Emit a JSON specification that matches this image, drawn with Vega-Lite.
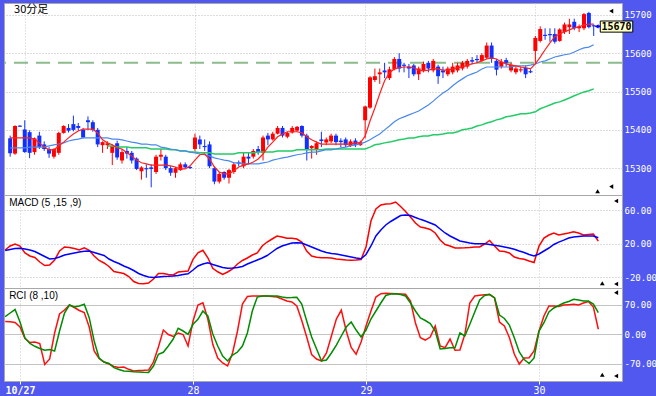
{
"$schema":"https://vega.github.io/schema/vega-lite/v6.json",
"background":"#5058f0",
"padding":{"left":3,"top":2,"right":0,"bottom":2},
"spacing":0,
"bounds":"flush",
"resolve":{"scale":{"x":"independent","y":"independent"}},
"config":{"view":{"fill":"white","stroke":"#a8a8a8","strokeWidth":1},"axis":{"title":null}},
"datasets":{"bars":[
{"i":0,"o":15378,"h":15385,"l":15330,"c":15339,"m1":15379,"m2":15353,"md":12.4,"sg":11.8,"r1":30.2,"r2":42},
{"i":1,"o":15338,"h":15412,"l":15335,"c":15410,"m1":15379,"m2":15353,"md":17.2,"sg":13,"r1":29.7,"r2":50.3},
{"i":2,"o":15411,"h":15412,"l":15408,"c":15408,"m1":15379,"m2":15353,"md":19.6,"sg":14.2,"r1":27.8,"r2":58.5},
{"i":3,"o":15401,"h":15425,"l":15340,"c":15342,"m1":15379,"m2":15353,"md":17.2,"sg":14.4,"r1":17.2,"r2":29},
{"i":4,"o":15394,"h":15399,"l":15326,"c":15340,"m1":15379,"m2":15355,"md":8.8,"sg":13.6,"r1":-9.9,"r2":-8.7},
{"i":5,"o":15342,"h":15380,"l":15335,"c":15378,"m1":15376,"m2":15355,"md":5.2,"sg":12.4,"r1":-19.4,"r2":-21.7},
{"i":6,"o":15385,"h":15395,"l":15350,"c":15355,"m1":15366,"m2":15355,"md":3.4,"sg":10.6,"r1":-18.2,"r2":-28.3},
{"i":7,"o":15362,"h":15370,"l":15345,"c":15350,"m1":15355,"m2":15355,"md":-2,"sg":7.6,"r1":-21.7,"r2":-33.5},
{"i":8,"o":15350,"h":15355,"l":15327,"c":15338,"m1":15348,"m2":15358,"md":-6.2,"sg":4.6,"r1":-71.3,"r2":-37.5},
{"i":9,"o":15330,"h":15352,"l":15325,"c":15350,"m1":15348,"m2":15361,"md":-5.6,"sg":1.6,"r1":-58.3,"r2":-35.9},
{"i":10,"o":15340,"h":15395,"l":15335,"c":15392,"m1":15358,"m2":15363,"md":0.4,"sg":2.2,"r1":3.1,"r2":-39.4},
{"i":11,"o":15392,"h":15412,"l":15390,"c":15410,"m1":15368,"m2":15366,"md":11.2,"sg":4,"r1":47.9,"r2":7.8},
{"i":12,"o":15405,"h":15415,"l":15393,"c":15398,"m1":15379,"m2":15371,"md":16,"sg":6.4,"r1":57.3,"r2":50.3},
{"i":13,"o":15415,"h":15437,"l":15396,"c":15400,"m1":15389,"m2":15374,"md":15.4,"sg":7.6,"r1":69.1,"r2":69.1},
{"i":14,"o":15410,"h":15418,"l":15398,"c":15405,"m1":15397,"m2":15376,"md":14.2,"sg":8.8,"r1":63.2,"r2":64.4},
{"i":15,"o":15400,"h":15405,"l":15378,"c":15380,"m1":15402,"m2":15379,"md":12.4,"sg":10,"r1":56.2,"r2":66.8},
{"i":16,"o":15425,"h":15435,"l":15400,"c":15420,"m1":15402,"m2":15379,"md":15.1,"sg":10.8,"r1":51.4,"r2":70.8},
{"i":17,"o":15420,"h":15425,"l":15395,"c":15400,"m1":15402,"m2":15379,"md":12,"sg":11.2,"r1":17.2,"r2":39.2},
{"i":18,"o":15400,"h":15405,"l":15355,"c":15362,"m1":15392,"m2":15379,"md":5.2,"sg":9.4,"r1":-39.4,"r2":-15.8},
{"i":19,"o":15360,"h":15370,"l":15340,"c":15368,"m1":15374,"m2":15379,"md":-0.2,"sg":7.6,"r1":-57.1,"r2":-55.9},
{"i":20,"o":15360,"h":15370,"l":15350,"c":15365,"m1":15366,"m2":15379,"m3":15358,"md":-3.2,"sg":5.8,"r1":-65.4,"r2":-65.4},
{"i":21,"o":15340,"h":15362,"l":15308,"c":15358,"m1":15361,"m2":15376,"m3":15358,"md":-7.4,"sg":1.6,"r1":-70.1,"r2":-68.9},
{"i":22,"o":15365,"h":15372,"l":15322,"c":15328,"m1":15353,"m2":15376,"m3":15355,"md":-13.4,"sg":-1.4,"r1":-76,"r2":-78.8},
{"i":23,"o":15320,"h":15350,"l":15312,"c":15342,"m1":15350,"m2":15374,"m3":15355,"md":-14.6,"sg":-3.8,"r1":-78.4,"r2":-83.1},
{"i":24,"o":15345,"h":15355,"l":15325,"c":15338,"m1":15340,"m2":15371,"m3":15355,"md":-15.8,"sg":-6.8,"r1":-77.2,"r2":-86.6},
{"i":25,"o":15340,"h":15345,"l":15312,"c":15320,"m1":15332,"m2":15368,"m3":15353,"md":-19.4,"sg":-9.2,"r1":-82.6,"r2":-87.3},
{"i":26,"o":15325,"h":15328,"l":15295,"c":15298,"m1":15321,"m2":15366,"m3":15353,"md":-25.4,"sg":-12.2,"r1":-86.6,"r2":-88.3},
{"i":27,"o":15292,"h":15305,"l":15270,"c":15302,"m1":15314,"m2":15363,"m3":15353,"md":-27.8,"sg":-15.8,"r1":-85.4,"r2":-89},
{"i":28,"o":15300,"h":15310,"l":15275,"c":15297,"m1":15311,"m2":15363,"m3":15353,"md":-28.1,"sg":-18.2,"r1":-85,"r2":-89.7},
{"i":29,"o":15302,"h":15310,"l":15250,"c":15298,"m1":15308,"m2":15361,"m3":15350,"md":-27.2,"sg":-20,"r1":-84.3,"r2":-90.1},
{"i":30,"o":15290,"h":15335,"l":15285,"c":15330,"m1":15308,"m2":15361,"m3":15350,"md":-22.4,"sg":-20.6,"r1":-65.4,"r2":-74.8},
{"i":31,"o":15330,"h":15350,"l":15320,"c":15335,"m1":15308,"m2":15355,"m3":15350,"md":-15.8,"sg":-20,"r1":-30,"r2":-47.2},
{"i":32,"o":15330,"h":15335,"l":15295,"c":15300,"m1":15308,"m2":15353,"m3":15350,"md":-15.8,"sg":-19.4,"r1":10.1,"r2":-42.5},
{"i":33,"o":15300,"h":15305,"l":15280,"c":15288,"m1":15306,"m2":15350,"m3":15348,"md":-17,"sg":-19.2,"r1":-0.5,"r2":-27.6},
{"i":34,"o":15288,"h":15303,"l":15275,"c":15300,"m1":15303,"m2":15348,"m3":15348,"md":-17.6,"sg":-18.8,"r1":-5.2,"r2":-11.1},
{"i":35,"o":15295,"h":15315,"l":15293,"c":15310,"m1":15298,"m2":15345,"m3":15345,"md":-14,"sg":-18.2,"r1":3.1,"r2":14.2},
{"i":36,"o":15310,"h":15315,"l":15300,"c":15302,"m1":15298,"m2":15345,"m3":15345,"md":-13.4,"sg":-17,"r1":-0.5,"r2":7.8},
{"i":37,"o":15303,"h":15305,"l":15298,"c":15300,"m1":15306,"m2":15342,"m3":15342,"md":-12.8,"sg":-16.1,"r1":-27.6,"r2":0},
{"i":38,"o":15350,"h":15390,"l":15345,"c":15380,"m1":15321,"m2":15340,"m3":15342,"md":1.2,"sg":-11.6,"r1":31.4,"r2":23.6},
{"i":39,"o":15375,"h":15385,"l":15350,"c":15362,"m1":15335,"m2":15337,"m3":15340,"md":9.1,"sg":-6.8,"r1":69.1,"r2":35.4},
{"i":40,"o":15358,"h":15375,"l":15345,"c":15355,"m1":15337,"m2":15335,"m3":15340,"md":12,"sg":-4.4,"r1":74.6,"r2":55},
{"i":41,"o":15362,"h":15370,"l":15300,"c":15305,"m1":15324,"m2":15332,"m3":15340,"md":3.1,"sg":-2.9,"r1":36.1,"r2":43.2},
{"i":42,"o":15300,"h":15305,"l":15258,"c":15265,"m1":15303,"m2":15327,"m3":15337,"md":-9.6,"sg":-5,"r1":-23.6,"r2":0.7},
{"i":43,"o":15265,"h":15290,"l":15260,"c":15285,"m1":15290,"m2":15324,"m3":15337,"md":-13.7,"sg":-6.8,"r1":-55.9,"r2":-27.6},
{"i":44,"o":15290,"h":15292,"l":15270,"c":15275,"m1":15285,"m2":15321,"m3":15337,"md":-17,"sg":-8.6,"r1":-67.7,"r2":-51.2},
{"i":45,"o":15275,"h":15298,"l":15260,"c":15295,"m1":15285,"m2":15319,"m3":15337,"md":-14,"sg":-9.6,"r1":-74.8,"r2":-63},
{"i":46,"o":15290,"h":15315,"l":15285,"c":15310,"m1":15293,"m2":15314,"m3":15337,"md":-10.4,"sg":-9.2,"r1":-44.1,"r2":-48.9},
{"i":47,"o":15315,"h":15320,"l":15305,"c":15312,"m1":15303,"m2":15314,"m3":15340,"md":-4.4,"sg":-8.6,"r1":7.8,"r2":-41.8},
{"i":48,"o":15305,"h":15340,"l":15300,"c":15330,"m1":15308,"m2":15311,"m3":15340,"md":-0.2,"sg":-7.4,"r1":71.5,"r2":-27.6},
{"i":49,"o":15330,"h":15340,"l":15310,"c":15325,"m1":15311,"m2":15311,"m3":15340,"md":2.8,"sg":-4.4,"r1":89.2,"r2":3.1},
{"i":50,"o":15330,"h":15350,"l":15325,"c":15345,"m1":15316,"m2":15311,"m3":15340,"md":6.4,"sg":-2,"r1":90.4,"r2":55},
{"i":51,"o":15350,"h":15358,"l":15335,"c":15342,"m1":15324,"m2":15311,"m3":15342,"md":8.8,"sg":0.4,"r1":90.4,"r2":88},
{"i":52,"o":15340,"h":15385,"l":15320,"c":15380,"m1":15337,"m2":15314,"m3":15342,"md":17.2,"sg":2.8,"r1":90.4,"r2":90.4},
{"i":53,"o":15385,"h":15392,"l":15360,"c":15375,"m1":15355,"m2":15316,"m3":15342,"md":22,"sg":5.8,"r1":90.4,"r2":90.4},
{"i":54,"o":15375,"h":15395,"l":15372,"c":15390,"m1":15368,"m2":15321,"m3":15342,"md":25.6,"sg":10,"r1":89.2,"r2":90.4},
{"i":55,"o":15390,"h":15410,"l":15388,"c":15405,"m1":15382,"m2":15324,"m3":15345,"md":29.2,"sg":14.2,"r1":88,"r2":90.4},
{"i":56,"o":15405,"h":15410,"l":15380,"c":15385,"m1":15389,"m2":15327,"m3":15345,"md":28,"sg":17.2,"r1":83.3,"r2":88},
{"i":57,"o":15382,"h":15395,"l":15378,"c":15392,"m1":15395,"m2":15329,"m3":15345,"md":26.4,"sg":19,"r1":78.6,"r2":86.4},
{"i":58,"o":15393,"h":15410,"l":15390,"c":15405,"m1":15395,"m2":15332,"m3":15345,"md":26.4,"sg":20.8,"r1":76.2,"r2":86.8},
{"i":59,"o":15398,"h":15410,"l":15395,"c":15408,"m1":15395,"m2":15335,"m3":15348,"md":25.6,"sg":21.1,"r1":66.8,"r2":87.6},
{"i":60,"o":15410,"h":15412,"l":15380,"c":15385,"m1":15392,"m2":15337,"m3":15348,"md":22,"sg":20.8,"r1":32.6,"r2":71.5},
{"i":61,"o":15385,"h":15390,"l":15320,"c":15350,"m1":15382,"m2":15340,"m3":15348,"md":11.2,"sg":18.4,"r1":-6.4,"r2":31.4},
{"i":62,"o":15352,"h":15360,"l":15325,"c":15358,"m1":15374,"m2":15342,"m3":15348,"md":5.2,"sg":16,"r1":-47.7,"r2":-6.4},
{"i":63,"o":15350,"h":15370,"l":15335,"c":15365,"m1":15368,"m2":15342,"m3":15348,"md":3.6,"sg":13.6,"r1":-58.3,"r2":-34.7},
{"i":64,"o":15375,"h":15395,"l":15355,"c":15371,"m1":15363,"m2":15345,"m3":15348,"md":3.1,"sg":11.2,"r1":-63,"r2":-63},
{"i":65,"o":15367,"h":15380,"l":15360,"c":15375,"m1":15363,"m2":15348,"m3":15350,"md":3.1,"sg":9.4,"r1":-44.1,"r2":-60.7},
{"i":66,"o":15370,"h":15390,"l":15365,"c":15385,"m1":15363,"m2":15348,"m3":15350,"md":2.8,"sg":8.2,"r1":-4,"r2":-44.1},
{"i":67,"o":15385,"h":15390,"l":15360,"c":15368,"m1":15363,"m2":15350,"m3":15350,"md":1.6,"sg":7.6,"r1":36.1,"r2":-25.3},
{"i":68,"o":15372,"h":15378,"l":15355,"c":15368,"m1":15363,"m2":15353,"m3":15350,"md":1,"sg":6.4,"r1":57.3,"r2":-4},
{"i":69,"o":15375,"h":15380,"l":15355,"c":15360,"m1":15363,"m2":15355,"m3":15350,"md":0.4,"sg":5.2,"r1":7.8,"r2":17.2},
{"i":70,"o":15358,"h":15375,"l":15355,"c":15370,"m1":15363,"m2":15358,"m3":15350,"md":0,"sg":4,"r1":-31.2,"r2":29},
{"i":71,"o":15372,"h":15378,"l":15355,"c":15360,"m1":15366,"m2":15361,"m3":15350,"md":0.4,"sg":2.8,"r1":-47.2,"r2":10.1},
{"i":72,"o":15360,"h":15372,"l":15358,"c":15368,"m1":15366,"m2":15363,"m3":15350,"md":1,"sg":1.9,"r1":-18.2,"r2":-6.4},
{"i":73,"o":15425,"h":15463,"l":15378,"c":15461,"m1":15384,"m2":15368,"m3":15350,"md":16,"sg":7,"r1":19.6,"r2":10.1},
{"i":74,"o":15458,"h":15540,"l":15455,"c":15537,"m1":15423,"m2":15374,"m3":15355,"md":47.2,"sg":17.2,"r1":55,"r2":36.1},
{"i":75,"o":15530,"h":15560,"l":15525,"c":15540,"m1":15457,"m2":15382,"m3":15361,"md":61.6,"sg":29.2,"r1":88,"r2":55},
{"i":76,"o":15545,"h":15560,"l":15520,"c":15550,"m1":15494,"m2":15389,"m3":15363,"md":66.4,"sg":36.4,"r1":95.8,"r2":73.9},
{"i":77,"o":15555,"h":15575,"l":15535,"c":15550,"m1":15528,"m2":15400,"m3":15366,"md":67.6,"sg":42.4,"r1":96.8,"r2":91.6},
{"i":78,"o":15535,"h":15565,"l":15530,"c":15558,"m1":15549,"m2":15410,"m3":15368,"md":67.9,"sg":46.6,"r1":96.3,"r2":95.1},
{"i":79,"o":15558,"h":15590,"l":15555,"c":15585,"m1":15559,"m2":15421,"m3":15371,"md":70,"sg":50.2,"r1":95.6,"r2":95.8},
{"i":80,"o":15585,"h":15600,"l":15550,"c":15560,"m1":15562,"m2":15429,"m3":15374,"md":64.6,"sg":53.8,"r1":95.1,"r2":93.9},
{"i":81,"o":15570,"h":15575,"l":15550,"c":15567,"m1":15564,"m2":15434,"m3":15376,"md":58.6,"sg":54.4,"r1":94.4,"r2":90.4},
{"i":82,"o":15565,"h":15572,"l":15535,"c":15560,"m1":15564,"m2":15439,"m3":15379,"md":52,"sg":53.8,"r1":78.6,"r2":73.9},
{"i":83,"o":15568,"h":15572,"l":15540,"c":15545,"m1":15562,"m2":15444,"m3":15379,"md":44.8,"sg":51.4,"r1":26.7,"r2":55},
{"i":84,"o":15545,"h":15565,"l":15530,"c":15560,"m1":15556,"m2":15449,"m3":15382,"md":40,"sg":49.2,"r1":-8,"r2":38.5},
{"i":85,"o":15555,"h":15578,"l":15550,"c":15572,"m1":15554,"m2":15457,"m3":15384,"md":38.8,"sg":47.2,"r1":-13.5,"r2":32.6},
{"i":86,"o":15575,"h":15580,"l":15550,"c":15560,"m1":15556,"m2":15465,"m3":15384,"md":37,"sg":44.8,"r1":-6.4,"r2":25.5},
{"i":87,"o":15555,"h":15585,"l":15550,"c":15580,"m1":15559,"m2":15475,"m3":15387,"md":32.8,"sg":42.4,"r1":19.6,"r2":7.8},
{"i":88,"o":15565,"h":15570,"l":15520,"c":15540,"m1":15559,"m2":15486,"m3":15387,"md":24.4,"sg":37.6,"r1":-27.6,"r2":-34.7},
{"i":89,"o":15555,"h":15565,"l":15535,"c":15550,"m1":15556,"m2":15496,"m3":15389,"md":19,"sg":32.8,"r1":-31.6,"r2":-33.5},
{"i":90,"o":15545,"h":15565,"l":15540,"c":15560,"m1":15556,"m2":15504,"m3":15392,"md":17.2,"sg":29.2,"r1":-11.1,"r2":-31.6},
{"i":91,"o":15550,"h":15575,"l":15545,"c":15565,"m1":15559,"m2":15515,"m3":15392,"md":14.8,"sg":26.2,"r1":-37.8,"r2":-31.6},
{"i":92,"o":15555,"h":15575,"l":15550,"c":15568,"m1":15562,"m2":15525,"m3":15395,"md":14.8,"sg":23.2,"r1":-37.1,"r2":3.1},
{"i":93,"o":15560,"h":15580,"l":15555,"c":15575,"m1":15564,"m2":15533,"m3":15400,"md":15,"sg":22,"r1":0,"r2":-4},
{"i":94,"o":15565,"h":15585,"l":15560,"c":15580,"m1":15569,"m2":15541,"m3":15402,"md":15.4,"sg":20.8,"r1":73.9,"r2":23.6},
{"i":95,"o":15582,"h":15590,"l":15572,"c":15578,"m1":15572,"m2":15546,"m3":15405,"md":16,"sg":19.9,"r1":90.4,"r2":52.6},
{"i":96,"o":15585,"h":15595,"l":15575,"c":15582,"m1":15575,"m2":15551,"m3":15410,"md":16,"sg":19.9,"r1":92,"r2":80.9},
{"i":97,"o":15580,"h":15600,"l":15578,"c":15595,"m1":15580,"m2":15559,"m3":15413,"md":19.6,"sg":19.9,"r1":93.5,"r2":91.6},
{"i":98,"o":15588,"h":15628,"l":15585,"c":15620,"m1":15585,"m2":15564,"m3":15418,"md":23.8,"sg":19,"r1":93.9,"r2":94.4},
{"i":99,"o":15620,"h":15628,"l":15575,"c":15585,"m1":15588,"m2":15564,"m3":15421,"md":17.2,"sg":18,"r1":85.7,"r2":86.4},
{"i":100,"o":15580,"h":15585,"l":15542,"c":15557,"m1":15585,"m2":15564,"m3":15426,"md":11.2,"sg":17.2,"r1":29,"r2":45.5},
{"i":101,"o":15565,"h":15585,"l":15560,"c":15578,"m1":15577,"m2":15564,"m3":15429,"md":10.6,"sg":16,"r1":19.6,"r2":37.3},
{"i":102,"o":15582,"h":15588,"l":15565,"c":15575,"m1":15572,"m2":15564,"m3":15434,"md":8.8,"sg":14.8,"r1":-7.6,"r2":21.9},
{"i":103,"o":15555,"h":15575,"l":15550,"c":15570,"m1":15569,"m2":15564,"m3":15436,"md":4,"sg":13.2,"r1":-46.5,"r2":-8},
{"i":104,"o":15550,"h":15565,"l":15545,"c":15560,"m1":15567,"m2":15567,"m3":15439,"md":2.2,"sg":11.2,"r1":-70.1,"r2":-41.8},
{"i":105,"o":15555,"h":15565,"l":15550,"c":15558,"m1":15564,"m2":15567,"m3":15442,"md":1.2,"sg":9.4,"r1":-55.9,"r2":-59.5},
{"i":106,"o":15562,"h":15568,"l":15535,"c":15545,"m1":15562,"m2":15567,"m3":15442,"md":-0.8,"sg":7,"r1":-55.2,"r2":-68.9},
{"i":107,"o":15553,"h":15558,"l":15548,"c":15550,"m1":15559,"m2":15569,"m3":15444,"md":-2.6,"sg":5.2,"r1":-39.4,"r2":-55.9},
{"i":108,"o":15606,"h":15645,"l":15572,"c":15640,"m1":15572,"m2":15572,"m3":15447,"md":17.2,"sg":7.6,"r1":7.8,"r2":7.8},
{"i":109,"o":15632,"h":15670,"l":15628,"c":15663,"m1":15590,"m2":15577,"m3":15455,"md":26.8,"sg":11.2,"r1":43.2,"r2":27.4},
{"i":110,"o":15648,"h":15665,"l":15635,"c":15645,"m1":15609,"m2":15580,"m3":15460,"md":30.4,"sg":14.8,"r1":66.8,"r2":52.6},
{"i":111,"o":15650,"h":15665,"l":15630,"c":15647,"m1":15627,"m2":15585,"m3":15465,"md":32.8,"sg":19,"r1":66.8,"r2":62.1},
{"i":112,"o":15650,"h":15665,"l":15625,"c":15630,"m1":15643,"m2":15590,"m3":15470,"md":30.4,"sg":21.8,"r1":65.6,"r2":68},
{"i":113,"o":15632,"h":15665,"l":15630,"c":15662,"m1":15650,"m2":15593,"m3":15473,"md":31.6,"sg":24.2,"r1":69.1,"r2":73.9},
{"i":114,"o":15655,"h":15680,"l":15650,"c":15675,"m1":15656,"m2":15596,"m3":15478,"md":32.8,"sg":26.8,"r1":69.9,"r2":77.4},
{"i":115,"o":15668,"h":15690,"l":15650,"c":15675,"m1":15661,"m2":15598,"m3":15483,"md":34.3,"sg":28,"r1":70.8,"r2":82.6},
{"i":116,"o":15682,"h":15690,"l":15660,"c":15665,"m1":15666,"m2":15603,"m3":15489,"md":32.8,"sg":28.6,"r1":69.1,"r2":80.9},
{"i":117,"o":15665,"h":15675,"l":15655,"c":15670,"m1":15669,"m2":15609,"m3":15494,"md":30.4,"sg":29.2,"r1":73.9,"r2":78.6},
{"i":118,"o":15665,"h":15705,"l":15660,"c":15702,"m1":15674,"m2":15614,"m3":15499,"md":31,"sg":29.2,"r1":77.4,"r2":78.6},
{"i":119,"o":15705,"h":15708,"l":15665,"c":15668,"m1":15676,"m2":15616,"m3":15502,"md":31.6,"sg":29.2,"r1":64.4,"r2":71.5},
{"i":120,"o":15673,"h":15675,"l":15645,"c":15670,"m1":15676,"m2":15622,"m3":15507,"md":23,"sg":27.1,"r1":12,"r2":51}
]},
"vconcat":[
{"width":618,"height":192,"layer":[
 {"data":{"values":[{}]},"mark":{"type":"rule","color":"#8cbc8c","strokeWidth":2,"strokeDash":[14,8],"clip":true},
  "encoding":{"y":{"datum":15575,"title":null,"scale":{"domain":[15230,15731],"nice":false,"zero":false}}}},
 {"data":{"name":"bars"},"mark":{"type":"rule","strokeWidth":1,"clip":true},
  "encoding":{
   "x":{"field":"i","type":"quantitative","title":null,"scale":{"domain":[-0.24,124.79],"nice":false,"zero":false},
     "axis":{"values":[3,38,73,108],"labels":false,"ticks":false,"domain":false,"grid":true,"gridColor":"#c8c8c8","gridDash":[1,2],"title":null}},
   "y":{"field":"l","type":"quantitative","title":null,"scale":{"domain":[15230,15731],"nice":false,"zero":false},
     "axis":{"orient":"right","values":[15300,15400,15500,15600,15700],"format":"d","labelColor":"white","labelFont":"DejaVu Sans Mono","labelFontSize":9,"labelPadding":2,"ticks":false,"tickSize":0,"domain":false,"grid":true,"gridColor":"#b8b8b8","gridDash":[1,2],"title":null}},
   "y2":{"field":"h"},
   "color":{"condition":{"test":"datum.c >= datum.o","value":"#ff0000"},"value":"#1030ff"}}},
 {"data":{"name":"bars"},"mark":{"type":"bar","size":4,"orient":"vertical","clip":true},
  "encoding":{
   "x":{"field":"i","type":"quantitative","title":null,"scale":{"domain":[-0.24,124.79],"nice":false,"zero":false}},
   "y":{"field":"o","type":"quantitative","title":null,"scale":{"domain":[15230,15731],"nice":false,"zero":false}},
   "y2":{"field":"c"},
   "color":{"condition":{"test":"datum.c >= datum.o","value":"#ff0000"},"value":"#1030ff"}}},
 {"data":{"name":"bars"},"mark":{"type":"line","color":"#22cc66","strokeWidth":1.5,"clip":true},
  "encoding":{"x":{"field":"i","type":"quantitative","title":null,"scale":{"domain":[-0.24,124.79],"nice":false,"zero":false}},
   "y":{"field":"m3","type":"quantitative","title":null,"scale":{"domain":[15230,15731],"nice":false,"zero":false}}}},
 {"data":{"name":"bars"},"mark":{"type":"line","color":"#4a88ee","strokeWidth":1.2,"clip":true},
  "encoding":{"x":{"field":"i","type":"quantitative","title":null,"scale":{"domain":[-0.24,124.79],"nice":false,"zero":false}},
   "y":{"field":"m2","type":"quantitative","title":null,"scale":{"domain":[15230,15731],"nice":false,"zero":false}}}},
 {"data":{"name":"bars"},"mark":{"type":"line","color":"#ff2020","strokeWidth":1.2,"clip":true},
  "encoding":{"x":{"field":"i","type":"quantitative","title":null,"scale":{"domain":[-0.24,124.79],"nice":false,"zero":false}},
   "y":{"field":"m1","type":"quantitative","title":null,"scale":{"domain":[15230,15731],"nice":false,"zero":false}}}},
 {"data":{"values":[{}]},"mark":{"type":"text","text":"30分足","align":"left","baseline":"top","font":"Noto Sans CJK JP","fontSize":11,"color":"black","dy":1},
  "encoding":{"x":{"datum":0.8,"title":null,"scale":{"domain":[-0.24,124.79],"nice":false,"zero":false}},"y":{"datum":15731,"title":null,"scale":{"domain":[15230,15731],"nice":false,"zero":false}}}},
 {"data":{"values":[{}]},"mark":{"type":"point","shape":"triangle-left","filled":true,"color":"black","opacity":1,"size":22},
  "encoding":{"x":{"datum":123.6,"title":null,"scale":{"domain":[-0.24,124.79],"nice":false,"zero":false}},"y":{"datum":15710,"title":null,"scale":{"domain":[15230,15731],"nice":false,"zero":false}}}},
 {"data":{"values":[{}]},"mark":{"type":"point","shape":"triangle-left","filled":true,"color":"black","opacity":1,"size":22},
  "encoding":{"x":{"datum":123.6,"title":null,"scale":{"domain":[-0.24,124.79],"nice":false,"zero":false}},"y":{"datum":15252,"title":null,"scale":{"domain":[15230,15731],"nice":false,"zero":false}}}},
 {"data":{"values":[{}]},"mark":{"type":"point","shape":"triangle-up","filled":true,"color":"black","opacity":1,"size":22},
  "encoding":{"x":{"datum":120.8,"title":null,"scale":{"domain":[-0.24,124.79],"nice":false,"zero":false}},"y":{"datum":15240,"title":null,"scale":{"domain":[15230,15731],"nice":false,"zero":false}}}},
 {"data":{"values":[{}]},"mark":{"type":"rect","fill":"#ffffc8","stroke":"black","strokeWidth":1},
  "encoding":{"x":{"datum":121.35,"title":null,"scale":{"domain":[-0.24,124.79],"nice":false,"zero":false}},"x2":{"datum":128.03},"y":{"datum":15684,"title":null,"scale":{"domain":[15230,15731],"nice":false,"zero":false}},"y2":{"datum":15655}}},
 {"data":{"values":[{}]},"mark":{"type":"text","text":"15670","align":"center","baseline":"middle","font":"DejaVu Sans Mono","fontSize":10,"fontWeight":"bold","color":"black","dy":0.5},
  "encoding":{"x":{"datum":124.7,"title":null,"scale":{"domain":[-0.24,124.79],"nice":false,"zero":false}},"y":{"datum":15670,"title":null,"scale":{"domain":[15230,15731],"nice":false,"zero":false}}}},
 {"data":{"values":[{}]},"mark":{"type":"rule","color":"#0000ff","strokeWidth":2},
  "encoding":{"x":{"datum":120.75,"title":null,"scale":{"domain":[-0.24,124.79],"nice":false,"zero":false}},"x2":{"datum":121.35},"y":{"datum":15670,"title":null,"scale":{"domain":[15230,15731],"nice":false,"zero":false}}}},
 {"data":{"values":[{}]},"mark":{"type":"point","shape":"triangle-left","filled":true,"color":"#0000ff","opacity":1,"size":20},
  "encoding":{"x":{"datum":120.6,"title":null,"scale":{"domain":[-0.24,124.79],"nice":false,"zero":false}},"y":{"datum":15670,"title":null,"scale":{"domain":[15230,15731],"nice":false,"zero":false}}}}
]},
{"width":618,"height":93,"layer":[
 {"data":{"name":"bars"},"mark":{"type":"line","color":"#ff0000","strokeWidth":1.5,"clip":true},
  "encoding":{
   "x":{"field":"i","type":"quantitative","title":null,"scale":{"domain":[-0.24,124.79],"nice":false,"zero":false},
     "axis":{"values":[3,38,73,108],"labels":false,"ticks":false,"domain":false,"grid":true,"gridColor":"#c8c8c8","gridDash":[1,2],"title":null}},
   "y":{"field":"md","type":"quantitative","title":null,"scale":{"domain":[-33.2,78.4],"nice":false,"zero":false},
     "axis":{"orient":"right","values":[-20,0,20,40,60],"labelExpr":"datum.value < 0 ? '-' + format(-datum.value, '.2f') : format(datum.value, '.2f')","labelColor":"white","labelFont":"DejaVu Sans Mono","labelFontSize":9,"labelPadding":2,"ticks":false,"tickSize":0,"domain":false,"grid":true,"gridColor":"#b8b8b8","gridDash":[1,2],"title":null}}}},
 {"data":{"name":"bars"},"mark":{"type":"line","color":"#0000ff","strokeWidth":1.5,"clip":true},
  "encoding":{"x":{"field":"i","type":"quantitative","title":null,"scale":{"domain":[-0.24,124.79],"nice":false,"zero":false}},
   "y":{"field":"sg","type":"quantitative","title":null,"scale":{"domain":[-33.2,78.4],"nice":false,"zero":false}}}},
 {"data":{"values":[{}]},"mark":{"type":"text","text":"MACD (5 ,15 ,9)","align":"left","baseline":"top","font":"Liberation Sans","fontSize":10,"color":"black"},
  "encoding":{"x":{"datum":0.8,"title":null,"scale":{"domain":[-0.24,124.79],"nice":false,"zero":false}},"y":{"datum":75,"title":null,"scale":{"domain":[-33.2,78.4],"nice":false,"zero":false}}}},
 {"data":{"values":[{}]},"mark":{"type":"point","shape":"triangle-left","filled":true,"color":"black","opacity":1,"size":22},
  "encoding":{"x":{"datum":123.6,"title":null,"scale":{"domain":[-0.24,124.79],"nice":false,"zero":false}},"y":{"datum":71.2,"title":null,"scale":{"domain":[-33.2,78.4],"nice":false,"zero":false}}}},
 {"data":{"values":[{}]},"mark":{"type":"point","shape":"triangle-left","filled":true,"color":"black","opacity":1,"size":22},
  "encoding":{"x":{"datum":123.6,"title":null,"scale":{"domain":[-0.24,124.79],"nice":false,"zero":false}},"y":{"datum":-28.4,"title":null,"scale":{"domain":[-33.2,78.4],"nice":false,"zero":false}}}},
 {"data":{"values":[{}]},"mark":{"type":"point","shape":"triangle-up","filled":true,"color":"black","opacity":1,"size":22},
  "encoding":{"x":{"datum":120.8,"title":null,"scale":{"domain":[-0.24,124.79],"nice":false,"zero":false}},"y":{"datum":-27.5,"title":null,"scale":{"domain":[-33.2,78.4],"nice":false,"zero":false}}}}
]},
{"width":618,"height":93,"layer":[
 {"data":{"name":"bars"},"mark":{"type":"line","color":"#ff1010","strokeWidth":1.5,"clip":true},
  "encoding":{
   "x":{"field":"i","type":"quantitative","title":null,"scale":{"domain":[-0.24,124.79],"nice":false,"zero":false},
     "axis":{"values":[3,38,73,108],"labelExpr":"datum.value == 3 ? '10/27' : datum.value == 38 ? '28' : datum.value == 73 ? '29' : '30'","labelColor":"white","labelFont":"DejaVu Sans Mono","labelFontSize":10,"labelFontWeight":{"condition":{"test":"datum.value == 3","value":"bold"},"value":"normal"},"labelPadding":1,"ticks":true,"tickColor":"white","tickSize":3,"domain":false,"grid":true,"gridColor":"#c8c8c8","gridDash":[1,2],"title":null}},
   "y":{"field":"r1","type":"quantitative","title":null,"scale":{"domain":[-110.2,109.3],"nice":false,"zero":false},
     "axis":{"orient":"right","values":[-70,0,70],"labelExpr":"datum.value < 0 ? '-' + format(-datum.value, '.2f') : format(datum.value, '.2f')","labelColor":"white","labelFont":"DejaVu Sans Mono","labelFontSize":9,"labelPadding":2,"ticks":false,"tickSize":0,"domain":false,"grid":true,"gridColor":"#c4c4c4","title":null}}}},
 {"data":{"name":"bars"},"mark":{"type":"line","color":"#008c00","strokeWidth":1.5,"clip":true},
  "encoding":{"x":{"field":"i","type":"quantitative","title":null,"scale":{"domain":[-0.24,124.79],"nice":false,"zero":false}},
   "y":{"field":"r2","type":"quantitative","title":null,"scale":{"domain":[-110.2,109.3],"nice":false,"zero":false}}}},
 {"data":{"values":[{}]},"mark":{"type":"text","text":"RCI (8 ,10)","align":"left","baseline":"top","font":"Liberation Sans","fontSize":10,"color":"black"},
  "encoding":{"x":{"datum":0.8,"title":null,"scale":{"domain":[-0.24,124.79],"nice":false,"zero":false}},"y":{"datum":102,"title":null,"scale":{"domain":[-110.2,109.3],"nice":false,"zero":false}}}},
 {"data":{"values":[{}]},"mark":{"type":"point","shape":"triangle-left","filled":true,"color":"black","opacity":1,"size":22},
  "encoding":{"x":{"datum":123.6,"title":null,"scale":{"domain":[-0.24,124.79],"nice":false,"zero":false}},"y":{"datum":98.2,"title":null,"scale":{"domain":[-110.2,109.3],"nice":false,"zero":false}}}},
 {"data":{"values":[{}]},"mark":{"type":"point","shape":"triangle-left","filled":true,"color":"black","opacity":1,"size":22},
  "encoding":{"x":{"datum":123.6,"title":null,"scale":{"domain":[-0.24,124.79],"nice":false,"zero":false}},"y":{"datum":-98.4,"title":null,"scale":{"domain":[-110.2,109.3],"nice":false,"zero":false}}}},
 {"data":{"values":[{}]},"mark":{"type":"point","shape":"triangle-up","filled":true,"color":"black","opacity":1,"size":22},
  "encoding":{"x":{"datum":120.8,"title":null,"scale":{"domain":[-0.24,124.79],"nice":false,"zero":false}},"y":{"datum":-95.5,"title":null,"scale":{"domain":[-110.2,109.3],"nice":false,"zero":false}}}}
]}
]
}
